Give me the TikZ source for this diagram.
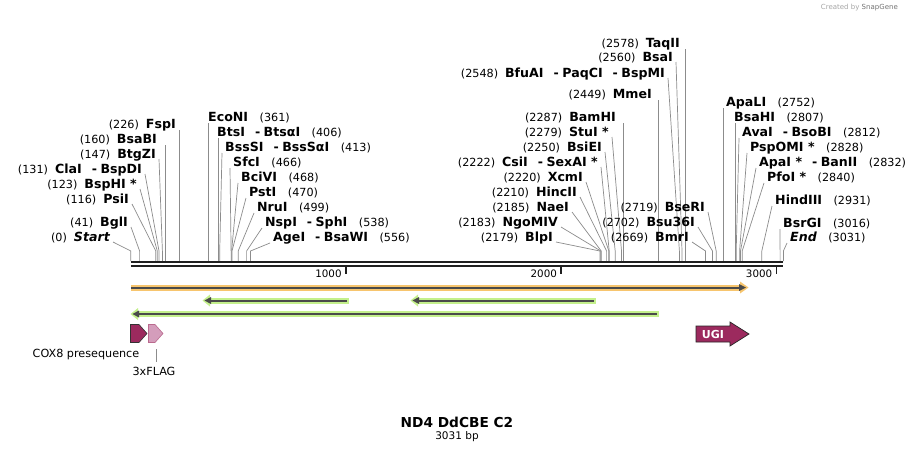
\documentclass[tikz,border=0pt]{standalone}
\usepackage{fontspec}
\setmainfont{DejaVu Sans}
\definecolor{cutgray}{HTML}{8C8C8C}
\definecolor{orfill}{HTML}{F7C56E}
\definecolor{grfill}{HTML}{C4F08C}
\definecolor{featline}{HTML}{4A4A4A}
\definecolor{coxc}{HTML}{9C2A5E}
\definecolor{flagc}{HTML}{D49DBB}
\newcommand{\nf}{\fontsize{11.2}{12}\selectfont\mdseries}
\newcommand{\bfn}{\fontsize{12.6}{13}\selectfont\bfseries}
\newcommand{\dd}{\hspace{10pt}-\hspace{3.5pt}}
\tikzset{
  lab/.style={inner sep=0pt, text height=9pt, text depth=0pt},
  cut/.style={draw=cutgray, line width=0.7pt},
}
% right-aligned label (number first), diagonal connector
\newcommand{\cutR}[6]{%
  \node[lab,anchor=east] (#1) at (#2,#3) {{\nf(#5)}\hspace{7pt}{\bfn #6}};
  \coordinate (#1-e) at (#4,251);
  \coordinate (#1-s) at (#4,261);
  \draw[cut] ([shift={(3,5)}]#1.east) -- (#1-e) -- (#1-s);
}
% right-aligned label, vertical connector
\newcommand{\cutRv}[6]{%
  \node[lab,anchor=east] (#1) at (#2,#3) {{\nf(#5)}\hspace{7pt}{\bfn #6}};
  \coordinate (#1-t) at (#4,#3+6);
  \coordinate (#1-s) at (#4,261);
  \draw[cut] (#1-t) -- (#1-s);
}
% left-aligned label (name first), diagonal connector
\newcommand{\cutL}[6]{%
  \node[lab,anchor=west] (#1) at (#2,#3) {{\bfn #6}\hspace{11.5pt}{\nf(#5)}};
  \coordinate (#1-e) at (#4,251);
  \coordinate (#1-s) at (#4,261);
  \draw[cut] ([shift={(-3,6)}]#1.west) -- (#1-e) -- (#1-s);
}
% left-aligned label, vertical connector
\newcommand{\cutLv}[6]{%
  \node[lab,anchor=west] (#1) at (#2,#3) {{\bfn #6}\hspace{11.5pt}{\nf(#5)}};
  \coordinate (#1-t) at (#4,#3+6);
  \coordinate (#1-s) at (#4,261);
  \draw[cut] (#1-t) -- (#1-s);
}
\begin{document}
\begin{tikzpicture}[x=1pt,y=-1pt]
\useasboundingbox (0,0) rectangle (914,453);
\fill[white] (0,0) rectangle (914,453);

% watermark
\node[inner sep=0pt, anchor=east, text=black!35] (wm) at (898,8) {\fontsize{7}{8}\selectfont Created by \textcolor{black!55}{SnapGene}};

% left group
\cutRv{fspi}{176}{124}{179.5}{226}{FspI}
\cutRv{bsabi}{157}{139}{165.2}{160}{BsaBI}
\cutR{btgzi}{156}{154}{162.4}{147}{BtgZI}
\cutR{clai}{142}{169}{159.0}{131}{ClaI\dd BspDI}
\cutR{bsphi}{137}{184}{157.3}{123}{BspHI *}
\cutR{psii}{129}{199}{155.8}{116}{PsiI}
\cutR{bgli}{128}{222}{139.6}{41}{BglI}
\cutR{startl}{110}{237}{130.8}{0}{\itshape Start}

% middle-left group
\cutLv{econi}{208}{117}{208.5}{361}{EcoNI}
\cutLv{btsi}{217}{132}{218.2}{406}{BtsI\dd BtsαI}
\cutL{bsssi}{225}{147}{219.7}{413}{BssSI\dd BssSαI}
\cutL{sfci}{233}{162}{231.1}{466}{SfcI}
\cutL{bcivi}{241}{177}{231.6}{468}{BciVI}
\cutL{psti}{249}{192}{232.0}{470}{PstI}
\cutL{nrui}{257}{207}{238.2}{499}{NruI}
\cutL{nspi}{265}{222}{246.6}{538}{NspI\dd SphI}
\cutL{agei}{273}{237}{250.5}{556}{AgeI\dd BsaWI}

% right-centre group
\cutRv{taqii}{680}{43}{685.8}{2578}{TaqII}
\cutR{bsai}{673}{57}{682.0}{2560}{BsaI}
\cutR{bfuai}{665}{73}{679.4}{2548}{BfuAI\dd PaqCI\dd BspMI}
\cutRv{mmei}{652}{94}{658.1}{2449}{MmeI}
\cutRv{bamhi}{616}{117}{623.2}{2287}{BamHI}
\cutR{stui}{609}{132}{621.5}{2279}{StuI *}
\cutR{bsiei}{602}{147}{615.2}{2250}{BsiEI}
\cutR{csii}{598}{162}{609.2}{2222}{CsiI\dd SexAI *}
\cutR{xcmi}{583}{177}{608.8}{2220}{XcmI}
\cutR{hincii}{577}{192}{606.6}{2210}{HincII}
\cutR{naei}{569}{207}{601.2}{2185}{NaeI}
\cutR{ngomiv}{558}{222}{600.8}{2183}{NgoMIV}
\cutR{blpi}{553}{237}{599.9}{2179}{BlpI}
\cutR{bseri}{705}{207}{716.2}{2719}{BseRI}
\cutR{bsui}{695}{222}{712.5}{2702}{Bsu36I}
\cutR{bmri}{689}{237}{705.5}{2669}{BmrI}

% right group
\cutLv{apali}{726}{102}{723.4}{2752}{ApaLI}
\cutLv{bsahi}{734}{117}{735.1}{2807}{BsaHI}
\cutL{avai}{742}{132}{736.2}{2812}{AvaI\dd BsoBI}
\cutL{pspomi}{750}{147}{739.6}{2828}{PspOMI *}
\cutL{apai}{759}{162}{740.5}{2832}{ApaI *\dd BanII}
\cutL{pfoi}{767}{177}{742.2}{2840}{PfoI *}
\cutL{hindiii}{775}{200}{761.8}{2931}{HindIII}
\cutL{bsrgi}{783}{223}{780.1}{3016}{BsrGI}
\cutL{endl}{790}{237}{783.4}{3031}{\itshape End}

% backbone
\draw[line width=2.6pt, black!88] (130.8,262) -- (783.4,262);
\draw[line width=2.4pt, black!88] (130.8,266.2) -- (783.4,266.2);
% ticks
\foreach \tx/\tl in {345.8/1000, 561.1/2000, 776.4/3000}{
  \draw[line width=1.6pt, black!88] (\tx,266) -- (\tx,274);
  \node[inner sep=0pt, anchor=east] at (\tx-4,274) {\fontsize{10.3}{11}\selectfont \tl};
}

% orange forward feature
\fill[orfill] (130.8,284.5) rectangle (741,290.5);
\fill[orfill] (740,281.5) -- (748.5,287.5) -- (740,293.5) -- cycle;
\draw[line width=2pt, featline] (130.8,287.5) -- (740,287.5);
\fill[featline] (739,284) -- (746,287.5) -- (739,291) -- cycle;

% green reverse features
\fill[grfill] (209,297.5) rectangle (348.5,303.5);
\fill[grfill] (210,294.5) -- (202.5,300.5) -- (210,306.5) -- cycle;
\draw[line width=2pt, featline] (210,300.5) -- (346.5,300.5);
\fill[featline] (211,297) -- (204.5,300.5) -- (211,304) -- cycle;

\fill[grfill] (417,297.5) rectangle (596,303.5);
\fill[grfill] (418,294.5) -- (410.5,300.5) -- (418,306.5) -- cycle;
\draw[line width=2pt, featline] (418,300.5) -- (594,300.5);
\fill[featline] (419,297) -- (412.5,300.5) -- (419,304) -- cycle;

\fill[grfill] (137,311) rectangle (658.5,317);
\fill[grfill] (138,308) -- (130.5,314) -- (138,320) -- cycle;
\draw[line width=2pt, featline] (138,314) -- (656.5,314);
\fill[featline] (139,310.5) -- (132.5,314) -- (139,317.5) -- cycle;

% small features
\filldraw[fill=coxc, draw=black!80, line width=0.6pt] (130.5,324.5) -- (139,324.5) -- (147,333.5) -- (139,342.5) -- (130.5,342.5) -- cycle;
\filldraw[fill=flagc, draw=coxc!70, line width=0.6pt] (148.5,324.5) -- (155,324.5) -- (163,333.5) -- (155,342.5) -- (148.5,342.5) -- cycle;
\node[inner sep=0pt] (coxlab) at (86,355) {\fontsize{11.2}{12}\selectfont COX8 presequence};
\node[inner sep=0pt] (flaglab) at (154,371) {\fontsize{11.2}{12}\selectfont 3xFLAG};
\coordinate (flagtop) at (156,349);
\coordinate (flagbot) at (156,362);
\draw[cut] (flagtop) -- (flagbot);

\filldraw[fill=coxc, draw=black!85, line width=0.7pt] (696,326) -- (730,326) -- (730,322) -- (749,334) -- (730,346) -- (730,342) -- (696,342) -- cycle;
\node[inner sep=0pt, text=white] (ugi) at (713,334) {\fontsize{11}{12}\selectfont\bfseries UGI};

% title
\node[inner sep=0pt] (title) at (457,422) {\fontsize{13.7}{15}\selectfont\bfseries ND4 DdCBE C2};
\node[inner sep=0pt] (bp) at (457,437) {\fontsize{10.5}{11}\selectfont 3031 bp};
\end{tikzpicture}
\end{document}
